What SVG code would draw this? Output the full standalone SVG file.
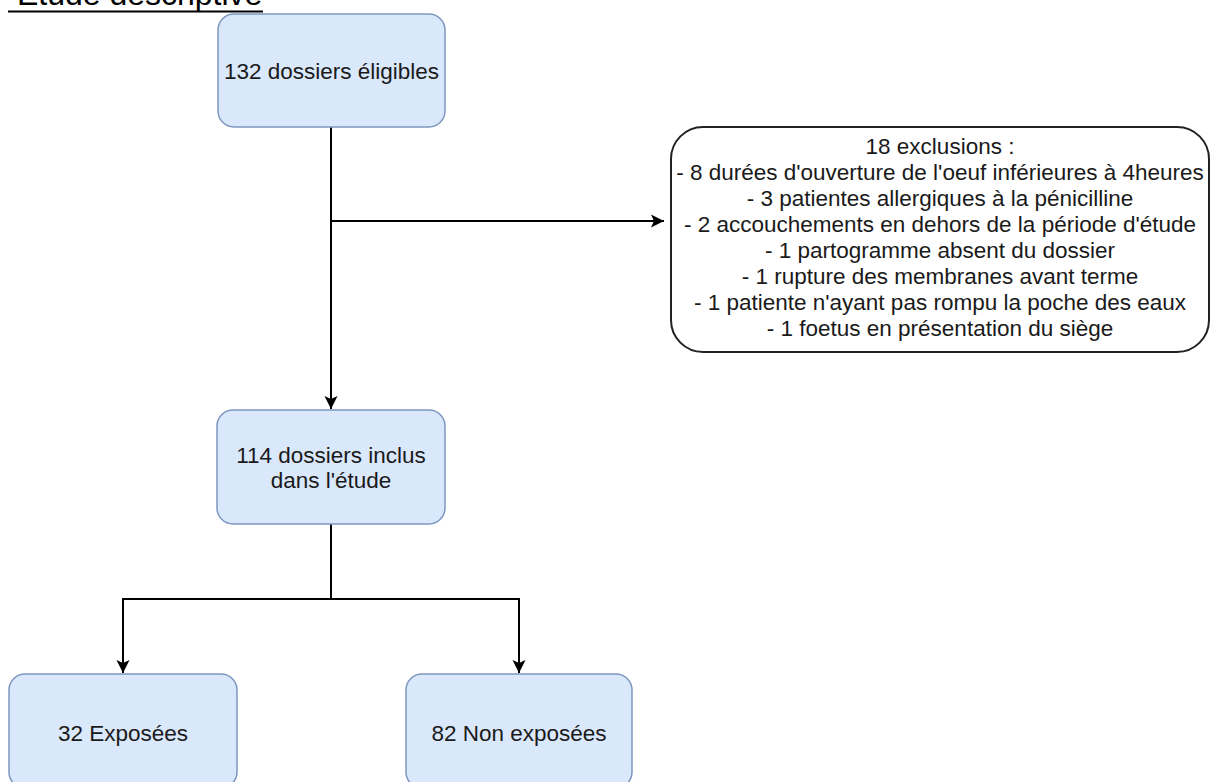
<svg xmlns="http://www.w3.org/2000/svg" width="1211" height="782" viewBox="0 0 1211 782">
<style>
.box{fill:#dae8fc;stroke:#7d96bf;stroke-width:1.5}
.excl{fill:#ffffff;stroke:#222222;stroke-width:2}
.t{font-family:"Liberation Sans",Arial,sans-serif;font-size:22.5px;fill:#1a1a1a;text-anchor:middle}
.title{font-family:"Liberation Sans",Arial,sans-serif;font-size:32px;fill:#000000}
.c{fill:none;stroke:#000000;stroke-width:2}
</style>
<defs>
<marker id="arr" markerUnits="userSpaceOnUse" markerWidth="16" markerHeight="14" viewBox="-13 -7 16 14" refX="0" refY="0" orient="auto">
<path d="M-13,-6.5 L0,0 L-13,6.5 L-10,0 Z" fill="#000000"/>
</marker>
</defs>
<rect width="1211" height="782" fill="#ffffff"/>
<g id="title">
<text class="title" x="8" y="5" xml:space="preserve"> Etude descriptive</text>
<line x1="8" y1="11.5" x2="263" y2="11.5" stroke="#000000" stroke-width="2"/>
</g>
<g id="connectors">
<line class="c" x1="331" y1="127" x2="331" y2="409" marker-end="url(#arr)"/>
<line class="c" x1="331" y1="221" x2="664" y2="221" marker-end="url(#arr)"/>
<polyline class="c" points="331,524 331,599 123,599 123,673" marker-end="url(#arr)"/>
<polyline class="c" points="331,599 519,599 519,673" marker-end="url(#arr)"/>
</g>
<g id="n1">
<rect class="box" x="218" y="14" width="227" height="113" rx="16"/>
<text class="t" x="331.5" y="78.5">132 dossiers éligibles</text>
</g>
<g id="n2">
<rect class="box" x="217" y="410" width="228" height="114" rx="16"/>
<text class="t" x="331" y="463">114 dossiers inclus</text>
<text class="t" x="331" y="488">dans l'étude</text>
</g>
<g id="n3">
<rect class="box" x="9" y="674" width="228" height="114" rx="16"/>
<text class="t" x="123" y="741">32 Exposées</text>
</g>
<g id="n4">
<rect class="box" x="406" y="674" width="226" height="114" rx="16"/>
<text class="t" x="519" y="741">82 Non exposées</text>
</g>
<g id="exclusions">
<rect class="excl" x="671" y="127" width="538" height="225" rx="32"/>
<text class="t" x="940" y="154">18 exclusions :</text>
<text class="t" x="940" y="180">- 8 durées d'ouverture de l'oeuf inférieures à 4heures</text>
<text class="t" x="940" y="206">- 3 patientes allergiques à la pénicilline</text>
<text class="t" x="940" y="232">- 2 accouchements en dehors de la période d'étude</text>
<text class="t" x="940" y="258">- 1 partogramme absent du dossier</text>
<text class="t" x="940" y="284">- 1 rupture des membranes avant terme</text>
<text class="t" x="940" y="310">- 1 patiente n'ayant pas rompu la poche des eaux</text>
<text class="t" x="940" y="336">- 1 foetus en présentation du siège</text>
</g>
</svg>
